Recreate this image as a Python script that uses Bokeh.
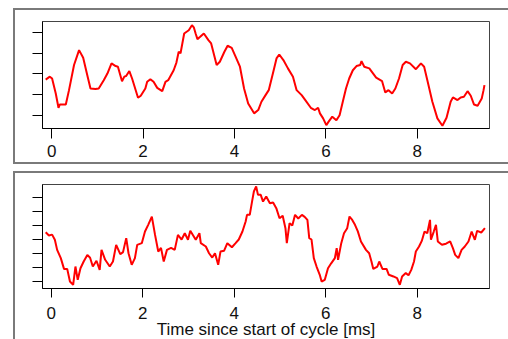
from bokeh.plotting import figure
from bokeh.layouts import column
from bokeh.models import FixedTicker
from bokeh.embed import file_html
from bokeh.resources import INLINE

# Top trace: time [ms] and signal (arbitrary units)
top_t = [-0.13, -0.04, 0.01, 0.09, 0.15, 0.18, 0.31, 0.38, 0.49, 0.60, 0.69, 0.78, 0.85,
         0.96, 1.03, 1.14, 1.22, 1.31, 1.40, 1.45, 1.54, 1.59, 1.63, 1.70, 1.76, 1.89, 1.95,
         2.05, 2.09, 2.16, 2.23, 2.31, 2.42, 2.49, 2.55, 2.67, 2.73, 2.78, 2.82, 2.90, 3.00,
         3.07, 3.11, 3.15, 3.19, 3.25, 3.33, 3.43, 3.49, 3.61, 3.68, 3.78, 3.85, 3.94, 4.01,
         4.12, 4.21, 4.30, 4.43, 4.52, 4.59, 4.68, 4.75, 4.85, 4.92, 4.98, 5.07, 5.17, 5.28,
         5.36, 5.47, 5.55, 5.67, 5.76, 5.83, 5.87, 5.94, 6.01, 6.06, 6.14, 6.23, 6.30, 6.37,
         6.44, 6.51, 6.59, 6.67, 6.75, 6.78, 6.84, 6.95, 7.10, 7.23, 7.30, 7.37, 7.45, 7.52,
         7.60, 7.68, 7.75, 7.84, 7.97, 8.08, 8.15, 8.22, 8.33, 8.44, 8.55, 8.64, 8.73, 8.78,
         8.88, 8.95, 9.02, 9.10, 9.17, 9.24, 9.32, 9.41, 9.45, 9.47]
top_v = [1.73, 1.87, 1.78, 1.06, 0.37, 0.53, 0.53, 1.22, 2.43, 3.15, 2.78, 1.94, 1.30,
         1.27, 1.30, 1.70, 2.02, 2.51, 2.38, 2.35, 1.65, 1.87, 1.90, 2.14, 1.78, 0.85, 0.95,
         1.30, 1.62, 1.75, 1.62, 1.33, 1.17, 1.62, 1.70, 2.18, 2.55, 3.07, 3.00, 3.95, 4.11,
         4.35, 4.25, 3.95, 3.68, 3.79, 3.95, 3.63, 3.47, 2.43, 2.59, 3.07, 3.36, 3.26, 2.91,
         2.35, 1.30, 0.58, 0.10, 0.26, 0.66, 0.98, 1.22, 2.11, 2.75, 2.94, 2.67, 2.27, 1.87,
         1.22, 0.98, 0.74, 0.37, 0.26, 0.37, 0.10, -0.14, -0.47, -0.30, -0.06, -0.23, 0.01, 0.66,
         1.30, 1.78, 2.18, 2.38, 2.43, 2.62, 2.35, 2.27, 1.82, 1.65, 1.11, 1.22, 1.06, 1.30,
         1.78, 2.43, 2.59, 2.51, 2.23, 2.51, 2.35, 1.70, 0.66, -0.14, -0.50, -0.11, 0.66, 0.87,
         0.74, 0.87, 0.90, 1.17, 0.95, 0.53, 0.47, 0.82, 1.22, 1.46]

# Bottom trace: time [ms] and signal (arbitrary units)
bot_t = [-0.12, -0.05, 0.02, 0.08, 0.13, 0.21, 0.28, 0.35, 0.41, 0.48, 0.53, 0.58, 0.64,
         0.71, 0.79, 0.85, 0.91, 0.99, 1.06, 1.10, 1.18, 1.28, 1.35, 1.42, 1.51, 1.57, 1.64,
         1.69, 1.76, 1.83, 1.88, 1.98, 2.05, 2.12, 2.20, 2.27, 2.34, 2.40, 2.46, 2.53, 2.62,
         2.70, 2.77, 2.85, 2.92, 2.99, 3.04, 3.10, 3.16, 3.24, 3.27, 3.38, 3.45, 3.52, 3.58,
         3.65, 3.70, 3.78, 3.85, 3.95, 4.03, 4.10, 4.18, 4.25, 4.28, 4.34, 4.39, 4.43, 4.48,
         4.52, 4.58, 4.63, 4.70, 4.78, 4.85, 4.92, 4.99, 5.06, 5.12, 5.15, 5.21, 5.27, 5.33,
         5.40, 5.48, 5.54, 5.60, 5.64, 5.69, 5.74, 5.80, 5.87, 5.91, 5.98, 6.05, 6.12, 6.20,
         6.24, 6.27, 6.34, 6.40, 6.47, 6.52, 6.58, 6.64, 6.70, 6.77, 6.88, 6.95, 7.00, 7.04,
         7.13, 7.17, 7.24, 7.33, 7.38, 7.48, 7.56, 7.62, 7.67, 7.75, 7.81, 7.87, 7.93, 7.97,
         8.04, 8.10, 8.16, 8.22, 8.28, 8.30, 8.36, 8.41, 8.45, 8.54, 8.63, 8.72, 8.78, 8.83,
         8.90, 8.97, 9.04, 9.12, 9.19, 9.26, 9.31, 9.40, 9.48]
bot_v = [3.52, 3.29, 3.35, 2.98, 2.26, 1.67, 0.90, 0.90, 0.00, -0.24, 1.07, 0.12, 0.95,
         1.43, 1.90, 1.70, 1.07, 1.48, 0.83, 2.26, 1.55, 1.07, 1.43, 2.62, 1.95, 2.10, 3.10,
         2.02, 1.19, 1.67, 2.62, 2.74, 3.57, 4.05, 4.64, 3.33, 2.14, 2.40, 1.43, 2.26, 2.40,
         2.26, 3.33, 3.00, 3.45, 2.98, 3.62, 3.30, 2.98, 3.45, 2.74, 2.50, 2.02, 1.71, 2.02,
         1.19, 2.14, 2.20, 2.74, 2.45, 2.74, 3.00, 3.57, 4.29, 4.76, 4.76, 5.71, 6.43, 6.79,
         6.19, 6.19, 5.71, 6.07, 5.59, 5.65, 5.24, 4.52, 4.70, 3.81, 2.74, 4.17, 4.00, 4.76,
         4.50, 4.76, 4.62, 4.40, 3.10, 3.00, 1.67, 1.07, 0.48, 0.00, 0.12, 0.95, 1.30, 1.67,
         2.38, 1.55, 2.74, 3.45, 3.81, 4.64, 4.40, 4.05, 3.60, 2.86, 2.26, 2.02, 1.43, 0.90,
         1.07, 1.43, 0.90, 0.90, 0.48, 0.36, 0.24, -0.24, 0.36, 0.60, 0.45, 0.83, 1.43, 2.14,
         2.50, 2.90, 3.57, 3.45, 4.40, 2.98, 3.55, 4.05, 2.86, 2.62, 2.70, 2.86, 2.38, 1.90,
         1.67, 2.26, 2.50, 2.86, 3.57, 2.98, 3.62, 3.50, 3.81]

x_ticks = [0, 2, 4, 6, 8]
top_y_ticks = [0, 1, 2, 3, 4]
bot_y_ticks = [0, 1, 2, 3, 4, 5, 6]

FONT = "Liberation Sans"
RED = "#ff0000"
BORDER = "2px solid #7a7a7a"


def style(p, yticks, xtick_out, standoff):
    p.xaxis.ticker = FixedTicker(ticks=x_ticks)
    p.yaxis.ticker = FixedTicker(ticks=yticks)
    p.yaxis.major_label_overrides = {t: "" for t in yticks}
    p.xgrid.visible = False
    p.ygrid.visible = False
    for ax in (p.xaxis[0], p.yaxis[0]):
        ax.major_tick_in = 0
        ax.major_tick_out = 10
        ax.minor_tick_out = 0
        ax.minor_tick_in = 0
        ax.axis_line_color = "black"
        ax.major_tick_line_color = "black"
        ax.major_label_text_font = FONT
        ax.major_label_text_font_size = "17px"
        ax.major_label_text_color = "#111111"
    p.xaxis.major_tick_out = xtick_out
    p.yaxis.major_label_standoff = 0
    p.xaxis.major_label_standoff = standoff
    p.outline_line_color = "#444444"
    p.outline_line_width = 1
    p.background_fill_color = "white"
    p.border_fill_color = "white"


p1 = figure(width=495, height=156, x_range=(-0.2, 9.58), y_range=(-0.63, 4.53),
            output_backend="svg", toolbar_location=None,
            min_border_left=27, min_border_right=20, min_border_top=11, min_border_bottom=38,
            margin=(8, 0, 0, 13))
style(p1, top_y_ticks, 10, 6)
p1.line(top_t, top_v, line_color=RED, line_width=2)
p1.styles = {"border-top": BORDER, "border-left": BORDER, "border-bottom": BORDER}

p2 = figure(width=495, height=172, x_range=(-0.19, 9.58), y_range=(-0.5, 6.93),
            output_backend="svg", toolbar_location=None,
            min_border_left=23, min_border_right=21, min_border_top=11, min_border_bottom=57,
            margin=(7, 0, 0, 13))
style(p2, bot_y_ticks, 9, 9)
p2.xaxis.axis_label = "Time since start of cycle [ms]"
p2.xaxis.axis_label_text_font = FONT
p2.xaxis.axis_label_text_font_size = "17px"
p2.xaxis.axis_label_text_font_style = "normal"
p2.xaxis.axis_label_text_color = "#111111"
p2.xaxis.axis_label_standoff = -2
p2.line(bot_t, bot_v, line_color=RED, line_width=2)
p2.styles = {"border-top": BORDER, "border-left": BORDER}

layout = column(p1, p2, spacing=0, styles={"height": "339px", "overflow": "hidden"})
open("out.html", "w").write(file_html(layout, INLINE))
